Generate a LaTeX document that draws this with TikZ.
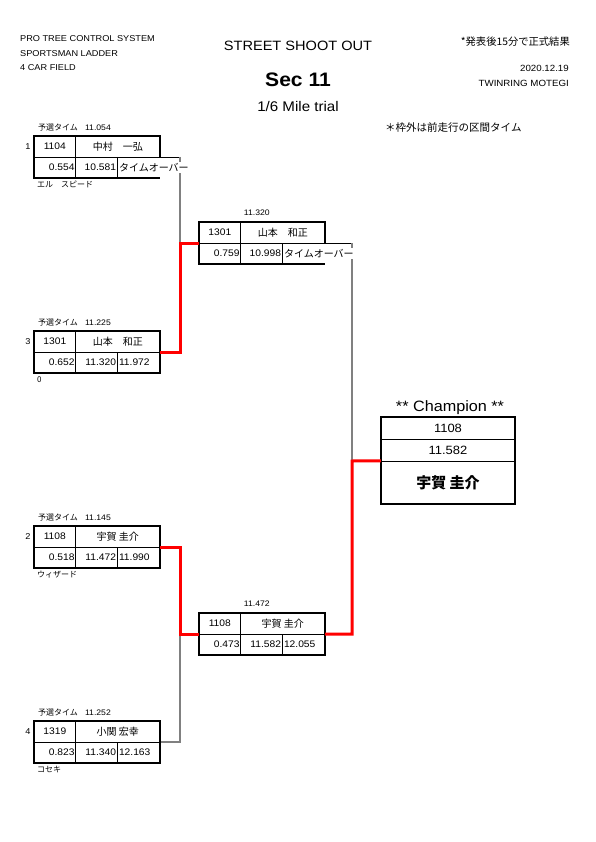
\documentclass[tikz,border=0pt]{standalone}
\usepackage{fontspec}
\setmainfont{Liberation Sans}[FakeStretch=1.08]
\newfontfamily\jp{Noto Sans CJK JP}
\usetikzlibrary{calc}
\pgfdeclarelayer{bg}
\pgfsetlayers{bg,main}
\tikzset{
  boxn/.style={rectangle, minimum width=126pt, minimum height=42pt, inner sep=0pt, draw=none},
  rown/.style={rectangle, minimum width=134pt, inner sep=0pt, draw=none},
  outer/.style={line width=2pt, line join=miter},
  inner/.style={line width=0.8pt},
  win/.style={red, line width=3pt},
  brk/.style={gray, line width=1.2pt},
  num/.style={font=\fontsize{9.5}{11}\selectfont, inner sep=0pt},
  jpn/.style={font=\jp\fontsize{10}{11}\selectfont, inner sep=0pt},
  lab/.style={font=\fontsize{8}{9}\selectfont, inner sep=0pt},
  hdr/.style={font=\fontsize{8.5}{10}\selectfont, inner sep=0pt},
}
\newcommand\racebox[9]{%
  \node[boxn] (#1) at (#2,#3) {};
  \draw[inner] (#1.west) -- (#1.east);
  \draw[inner] ([xshift=42pt]#1.north west) -- ([xshift=42pt]#1.south west);
  \draw[inner] ([xshift=84pt]#1.west) -- ([xshift=84pt]#1.south west);
  \ifnum#9=1
    \draw[outer] (#1.east) -- (#1.north east) -- (#1.north west) -- (#1.south west) -- (#1.south east);
    \node[jpn, anchor=west, fill=white, inner ysep=1pt, font=\jp\fontsize{10}{11}\selectfont] (#1t) at ([xshift=85pt,yshift=-10.5pt]#1.west) {#8};
  \else
    \draw[outer] (#1.north west) rectangle (#1.south east);
    \node[num, anchor=west] (#1t) at ([xshift=85pt,yshift=-10.5pt]#1.west) {#8};
  \fi
  \node[num] (#1c) at ([xshift=21pt,yshift=10.5pt]#1.west) {#4};
  \node[jpn] (#1d) at ([xshift=84pt,yshift=10.5pt]#1.west) {#5};
  \node[num, anchor=east] (#1r) at ([xshift=41pt,yshift=-10.5pt]#1.west) {#6};
  \node[num, anchor=east] (#1e) at ([xshift=82.5pt,yshift=-10.5pt]#1.west) {#7};
}
\begin{document}
\begin{tikzpicture}[x=1pt,y=-1pt]
\useasboundingbox (0,0) rectangle (595,842);
\begin{pgfonlayer}{bg}
\fill[white] (0,0) rectangle (595,842);
\end{pgfonlayer}

% header
\node[hdr, anchor=west] (h1) at (20,39) {PRO TREE CONTROL SYSTEM};
\node[hdr, anchor=west] (h2) at (20,54) {SPORTSMAN LADDER};
\node[hdr, anchor=west] (h3) at (20,68) {4 CAR FIELD};
\node[inner sep=0pt, font=\fontsize{13.5}{15}\selectfont] (t1) at (298,46) {STREET SHOOT OUT};
\node[inner sep=0pt, font=\bfseries\fontsize{19.5}{22}\selectfont] (t2) at (298,80) {Sec 11};
\node[inner sep=0pt, font=\fontsize{14}{16}\selectfont] (t3) at (298,106) {1/6 Mile trial};
\node[inner sep=0pt, anchor=east, font=\jp\fontsize{10.3}{11}\selectfont] (r1) at (570,42) {*発表後15分で正式結果};
\node[hdr, anchor=east, font=\fontsize{9}{10}\selectfont] (r2) at (569,68) {2020.12.19};
\node[hdr, anchor=east, font=\fontsize{9}{10}\selectfont] (r3) at (569,83) {TWINRING MOTEGI};
\node[inner sep=0pt, anchor=west, font=\jp\fontsize{10.5}{11}\selectfont] (n1) at (385,128) {＊枠外は前走行の区間タイム};

% boxes
\racebox{b1}{97}{157}{1104}{中村　一弘}{0.554}{10.581}{タイムオーバー}{1}
\racebox{b3}{97}{352}{1301}{山本　和正}{0.652}{11.320}{11.972}{0}
\racebox{b5}{97}{547}{1108}{宇賀 圭介}{0.518}{11.472}{11.990}{0}
\racebox{b6}{97}{742}{1319}{小関 宏幸}{0.823}{11.340}{12.163}{0}
\racebox{b2}{262}{243}{1301}{山本　和正}{0.759}{10.998}{タイムオーバー}{1}
\racebox{b4}{262}{634}{1108}{宇賀 圭介}{0.473}{11.582}{12.055}{0}

% qualifying labels, seeds, names
\foreach \b/\q/\s/\nm in {b1/11.054/1/エル　スピード, b3/11.225/3/0, b5/11.145/2/ウィザード, b6/11.252/4/コセキ}{
  \node[lab, anchor=west] (\b q) at ([xshift=4pt,yshift=8pt]\b.north west) {{\jp 予選タイム}\hspace{0.9em}\q};
  \node[lab, anchor=east, font=\fontsize{8.5}{9}\selectfont] (\b s) at ([xshift=-3pt,yshift=10.5pt]\b.west) {\s};
  \node[lab, anchor=west] (\b n) at ([xshift=3pt,yshift=-6.5pt]\b.south west) {{\jp \nm}};
}
\node[lab] (b2q) at ([xshift=58pt,yshift=9pt]b2.north west) {11.320};
\node[lab] (b4q) at ([xshift=58pt,yshift=9pt]b4.north west) {11.472};

% champion
\node[inner sep=0pt, font=\fontsize{15}{17}\selectfont] (ch) at (450,408) {** Champion **};
\node[rown, minimum height=22pt, font=\fontsize{12}{13}\selectfont] (c1) at (448,428) {1108};
\node[rown, minimum height=22pt, font=\fontsize{12}{13}\selectfont] (c2) at (448,450) {11.582};
\node[rown, minimum height=43pt, font=\jp\bfseries\fontsize{15}{17}\selectfont] (c3) at (448,482.5) {宇賀 圭介};
\draw[inner] (c1.south west) -- (c1.south east);
\draw[inner] (c2.south west) -- (c2.south east);
\draw[outer] (c1.north west) rectangle (c3.south east);

% connectors
\coordinate (j1) at (180,243);
\coordinate (j2) at (180,634);
\coordinate (j3) at (352,461);
\begin{pgfonlayer}{bg}
\draw[inner] (b1.east) -- (b1.east -| j1);
\draw[brk] (b1.east -| j1) -- (j1);
\draw[brk] (b6.east) -| (j2);
\draw[inner] (b2.east) -- (b2.east -| j3);
\draw[brk] (b2.east -| j3) -- (j3);
\end{pgfonlayer}
\draw[win] (b3.east) -| (j1) -- (b2.west);
\draw[win] (b5.east) -| (j2) -- (b4.west);
\draw[win] (b4.east) -| (j3) -- (c3.north west);
\end{tikzpicture}
\end{document}
